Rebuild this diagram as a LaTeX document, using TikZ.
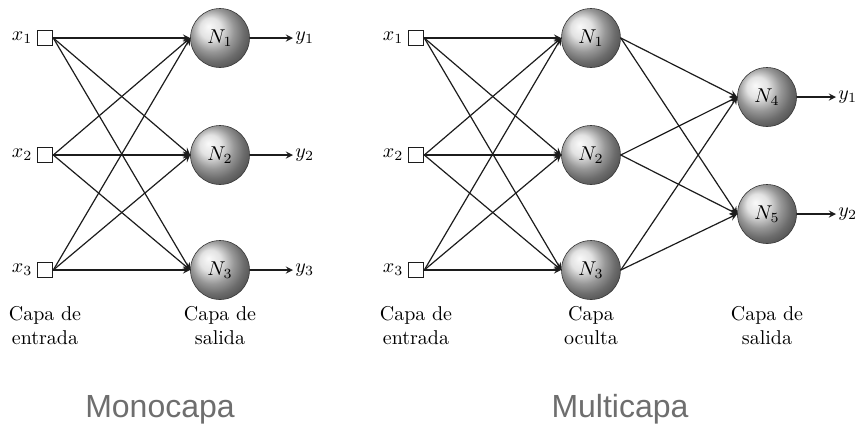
\documentclass[tikz,border=0pt]{standalone}
\usepackage{amsmath}
\usepackage{fontspec}
\usepackage{tikz}
\usetikzlibrary{positioning,arrows}
\newfontfamily\capafont{Liberation Sans}
\definecolor{ink}     {HTML}{1C1C1C}
\definecolor{softink} {HTML}{6E6E6E}
\tikzset{
  >=stealth,
  % --- nodes
  inp/.style    = {draw=ink, fill=white, minimum size=7.5pt, inner sep=0pt, line width=0.8pt},
  neuron/.style = {circle, shading=ball, ball color=gray!30, draw=gray!45!black,
                   line width=0.3pt, minimum size=29.5pt, inner sep=0pt},
  xin/.style    = {inner sep=1pt},
  lbl/.style    = {align=center, anchor=north},
  title/.style  = {font=\capafont\fontsize{16}{19}\selectfont, text=softink, anchor=base},
  % --- edges
  e/.style      = {->, draw=ink, line width=0.6pt},
}

\begin{document}
\begin{tikzpicture}[x=0.5pt,y=-0.5pt]
  \useasboundingbox (0,0) rectangle (861,425);

  % --- monocapa
  \foreach \i/\y in {1/38,2/155,3/270} {
    \node[inp] (mx\i) at (45,\y) {};
    \node[xin, left=1pt of mx\i] (mxl\i) {$x_\i$};
    \node[neuron] (mn\i) at (220,\y) {$N_\i$};
    \coordinate (mo\i) at (293,\y);
    \draw[e] (mn\i.east) -- (mo\i);
    \node[xin, anchor=west] (myl\i) at (mo\i) {$y_\i$};
  }
  \foreach \i in {1,2,3}
    \foreach \j in {1,2,3}
      \draw[e] (mx\i.east) -- (mn\j.west);

  \node[lbl] (mcin)  at (45,299)  {Capa de\\entrada};
  \node[lbl] (mcout) at (220,299) {Capa de\\salida};
  \node[title] (mtit) at (160,417) {Monocapa};

  % --- multicapa
  \foreach \i/\y in {1/38,2/155,3/270} {
    \node[inp] (px\i) at (416,\y) {};
    \node[xin, left=1pt of px\i] (pxl\i) {$x_\i$};
    \node[neuron] (ph\i) at (591,\y) {$N_\i$};
  }
  \node[neuron] (po1) at (767,97)  {$N_4$};
  \node[neuron] (po2) at (767,214) {$N_5$};
  \foreach \k/\y in {1/97,2/214} {
    \coordinate (pe\k) at (836,\y);
    \draw[e] (po\k.east) -- (pe\k);
    \node[xin, anchor=west] (pyl\k) at (pe\k) {$y_\k$};
  }
  \foreach \i in {1,2,3} {
    \foreach \j in {1,2,3}
      \draw[e] (px\i.east) -- (ph\j.west);
    \foreach \k in {1,2}
      \draw[e] (ph\i.east) -- (po\k.west);
  }

  \node[lbl] (pcin)  at (416,299) {Capa de\\entrada};
  \node[lbl] (pcmid) at (591,299) {Capa\\oculta};
  \node[lbl] (pcout) at (767,299) {Capa de\\salida};
  \node[title] (ptit) at (620,417) {Multicapa};
\end{tikzpicture}
\end{document}
